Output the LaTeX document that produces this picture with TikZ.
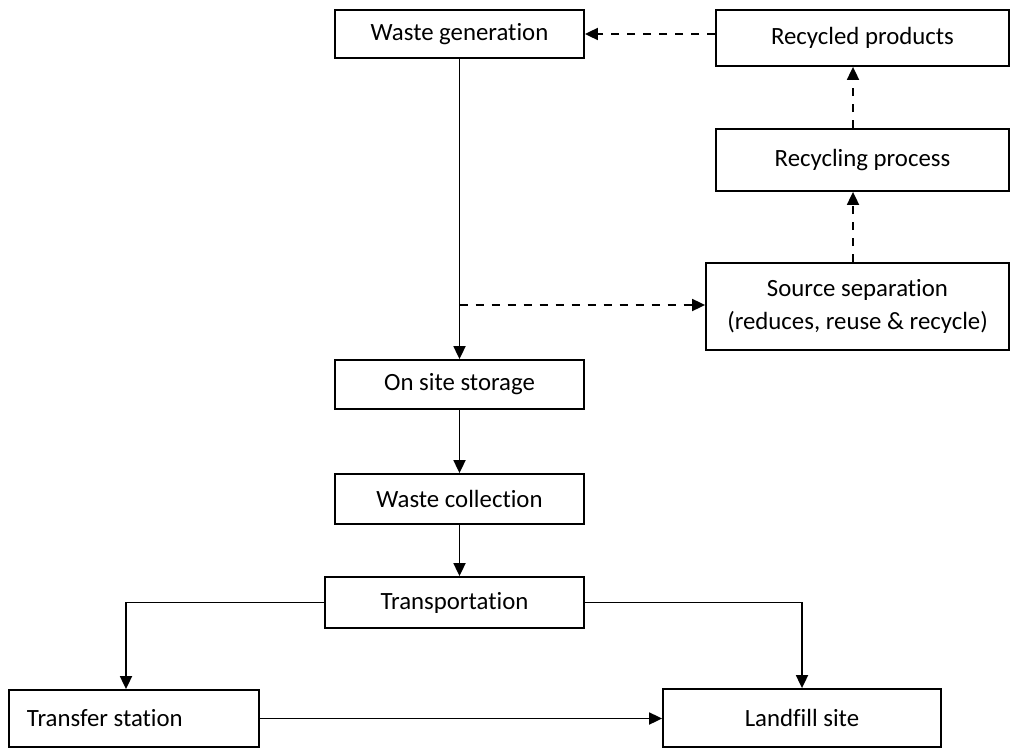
\documentclass[tikz,border=0pt]{standalone}
\usepackage{fontspec}
\setmainfont{Carlito}[Ligatures={NoCommon}]
\usetikzlibrary{arrows.meta}
\begin{document}
\begin{tikzpicture}[x=1pt,y=-1pt,
 box/.style={draw, line width=1.8pt, inner sep=0pt, font=\fontsize{24.8}{33}\selectfont, align=center},
 arr/.style={line width=1.8pt, -{Triangle[length=13pt,width=12pt]}},
 darr/.style={arr, dash pattern=on 8pt off 8pt}]
\useasboundingbox (0,0) rectangle (1010,749);
\node[box, minimum width=249, minimum height=48] (wg) at (459.5,34) {Waste generation};
\node[box, minimum width=293, minimum height=56] (rp) at (862.5,38) {Recycled products};
\node[box, minimum width=293, minimum height=62] (rc) at (862.5,160) {Recycling process};
\node[box, minimum width=303, minimum height=87] (ss) at (857.5,306.5) {Source separation\\(reduces, reuse \& recycle)};
\node[box, minimum width=249, minimum height=49] (os) at (459.5,384.5) {On site storage};
\node[box, minimum width=249, minimum height=50] (wc) at (459.5,499) {Waste collection};
\node[box, minimum width=259, minimum height=51] (tr) at (454.5,602.5) {Transportation};
\node[box, minimum width=250, minimum height=57, align=none] (ts) at (134,718.5) {\makebox[214pt][l]{Transfer station}};
\node[box, minimum width=278, minimum height=58] (lf) at (802,718) {Landfill site};
\coordinate (ax) at (853,0);
\coordinate (tx) at (126,0);
\coordinate (br) at (459.5,305);
\draw[arr] (wg) -- (os);
\draw[darr] (br) -- (br -| ss.west);
\draw[darr] (ss.north -| ax) -- (rc.south -| ax);
\draw[darr] (rc.north -| ax) -- (rp.south -| ax);
\draw[darr] (wg.east -| rp.west) -- (wg.east);
\draw[arr] (os) -- (wc);
\draw[arr] (wc.south) -- (wc.south |- tr.north);
\draw[arr] (tr.west) -| (ts.north -| tx);
\draw[arr] (tr.east) -| (lf.north);
\draw[arr] (ts.east) -- (ts.east -| lf.west);
\end{tikzpicture}
\end{document}
